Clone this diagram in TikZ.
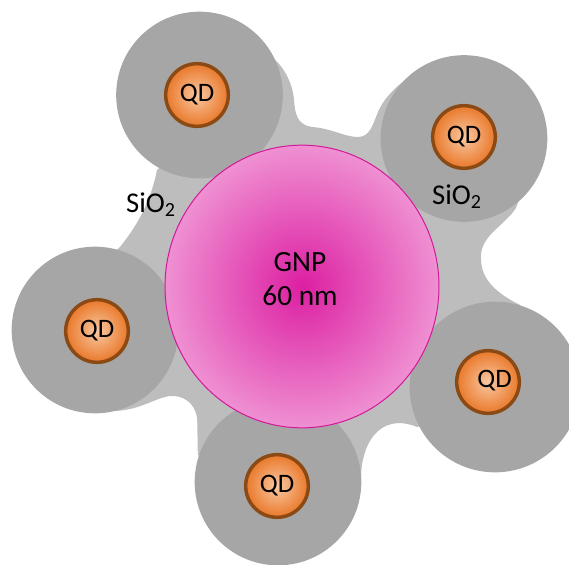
\documentclass[tikz,border=0pt]{standalone}
\usepackage{fontspec}
\setmainfont{Carlito}
\usetikzlibrary{shapes.geometric}
\definecolor{silica}{HTML}{BDBDBD}
\definecolor{shellgray}{HTML}{A6A6A6}
\definecolor{goldin}{HTML}{DC1FA2}
\definecolor{goldout}{HTML}{EF90D2}
\definecolor{goldline}{HTML}{D4189A}
\definecolor{dotin}{HTML}{F9C8A2}
\definecolor{dotout}{HTML}{E9782A}
\definecolor{dotline}{HTML}{8B4A14}
\tikzset{
    shell/.style = {circle, fill = shellgray, inner sep = 0, minimum size = 125pt},
    gold/.style = {ellipse, draw = goldline, line width = 0.75pt, inner sep = 0, minimum width = 205.5pt, minimum height = 212pt,
        inner color = goldin, outer color = goldout},
    dot/.style = {circle, draw = dotline, line width = 2.6pt, inner sep = 0, minimum size = 47pt,
        inner color = dotin, outer color = dotout, font = \fontsize{20}{20}\selectfont},
    oxide/.style = {inner sep = 0, font = \fontsize{21.5}{20}\selectfont}
}
\begin{document}
\begin{tikzpicture}[x = 0.75pt, y = -0.75pt]
        \useasboundingbox (0, 0) rectangle (569, 565);

        % silica around the shells
        \fill[silica] (273, 58) .. controls (285, 68) and (293, 85) .. (294, 100)
            .. controls (295, 115) and (298, 125) .. (312, 127)
            .. controls (330, 128) and (345, 137) .. (358, 137)
            .. controls (370, 137) and (373, 124) .. (378, 112)
            .. controls (383, 100) and (395, 85) .. (420, 70)
            -- (500, 100) -- (530, 170) -- (516, 208)
            .. controls (505, 225) and (482, 235) .. (481, 255)
            .. controls (480, 275) and (490, 290) .. (520, 305)
            -- (530, 400) -- (417, 427)
            .. controls (405, 422) and (390, 420) .. (377, 432)
            .. controls (365, 443) and (360, 465) .. (361, 485)
            -- (280, 520) -- (198, 455)
            .. controls (197, 440) and (198, 430) .. (197, 418)
            .. controls (195, 402) and (182, 395) .. (170, 396)
            .. controls (155, 398) and (140, 410) .. (115, 411)
            -- (60, 300) -- (120, 247)
            .. controls (135, 228) and (150, 205) .. (157, 170) -- cycle;

        \node[shell] (shellA) at (199.5, 95) {};
        \node[shell] (shellB) at (464, 138.5) {};
        \node[shell] (shellC) at (95, 330) {};
        \node[shell, minimum size = 128pt] (shellD) at (495, 387) {};
        \node[shell] (shellE) at (278, 482) {};

        \node[gold] (gnp) at (302, 286.5) {};
        \node[inner sep = 0, align = center, font = \fontsize{22}{26}\selectfont] (gnptext) at (300, 279) {GNP\\60 nm};

        \node[dot] (qdA) at (197, 95) {QD};
        \node[dot] (qdB) at (464, 137) {QD};
        \node[dot] (qdC) at (97, 331) {QD};
        \node[dot] (qdD) at (488, 382) {};
        \node[inner sep = 0, font = \fontsize{20}{20}\selectfont] (qdDtext) at (494.5, 381) {QD};
        \node[dot] (qdE) at (277, 486) {QD};

        \node[oxide] (oxideA) at (151, 205) {SiO\textsubscript{2}};
        \node[oxide] (oxideB) at (457, 197) {SiO\textsubscript{2}};

    \end{tikzpicture}
\end{document}
